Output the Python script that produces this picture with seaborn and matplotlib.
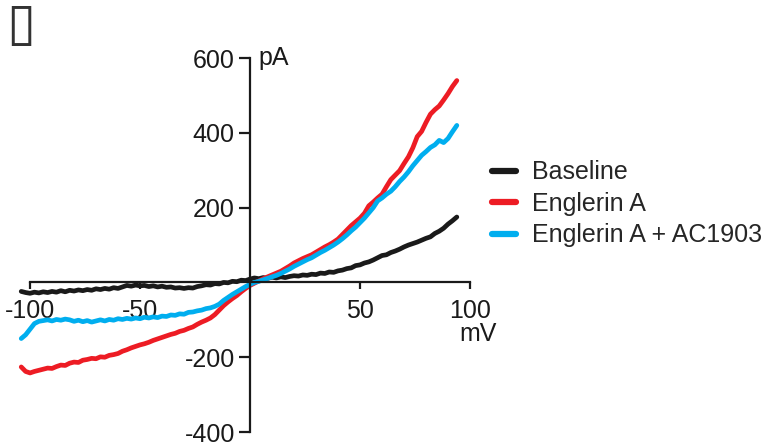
import numpy as np
import pandas as pd
import matplotlib.pyplot as plt
import seaborn as sns

# membrane potential sweep (mV), one sample every 2 mV
voltage = np.arange(-104, 96, 2)

# current (pA)
baseline = [-24, -27, -29, -26, -28, -25, -27, -24, -26, -22,
            -25, -21, -23, -20, -22, -19, -21, -17, -19, -16,
            -18, -14, -16, -12, -8, -10, -7, -9, -8, -11,
            -9, -12, -10, -13, -12, -15, -14, -16, -14, -15,
            -11, -9, -6, -7, -3, -4, 0, -1, 3, 2,
            6, 5, 9, 12, 10, 13, 11, 14, 12, 15,
            13, 16, 18, 17, 20, 19, 22, 21, 25, 24,
            28, 27, 31, 33, 37, 39, 45, 47, 52, 55,
            60, 66, 72, 74, 80, 84, 89, 95, 100, 104,
            108, 113, 118, 122, 131, 137, 145, 156, 165, 175]

englerin = [-226, -238, -242, -238, -235, -232, -229, -230, -225, -221,
            -222, -216, -213, -214, -208, -206, -203, -204, -199, -200,
            -195, -193, -190, -184, -180, -175, -171, -167, -164, -160,
            -155, -151, -147, -143, -139, -136, -131, -128, -123, -119,
            -112, -106, -101, -95, -86, -74, -62, -52, -43, -35,
            -25, -16, -8, -2, 4, 10, 15, 20, 25, 30,
            37, 44, 52, 58, 64, 69, 74, 81, 88, 95,
            101, 108, 116, 128, 140, 152, 162, 172, 185, 205,
            215, 226, 236, 256, 275, 287, 299, 318, 336, 360,
            390, 404, 428, 450, 462, 472, 488, 505, 524, 540]

englerin_ac = [-150, -140, -125, -110, -104, -102, -100, -103, -99, -101,
               -98, -100, -104, -101, -105, -102, -106, -103, -100, -103,
               -99, -101, -97, -99, -96, -98, -95, -97, -93, -95,
               -92, -94, -90, -91, -87, -88, -84, -85, -80, -79,
               -76, -74, -70, -68, -64, -58, -48, -40, -32, -25,
               -18, -11, -5, 0, 3, 7, 11, 15, 19, 24,
               30, 36, 43, 49, 55, 61, 66, 73, 80, 86,
               93, 100, 108, 117, 127, 138, 148, 160, 172, 186,
               200, 218, 226, 236, 244, 256, 270, 282, 296, 312,
               326, 340, 350, 361, 368, 380, 374, 385, 403, 420]

labels = ['Baseline', 'Englerin A', 'Englerin A + AC1903']
colors = ['#1a1a1a', '#ed1c24', '#00aeef']

df = pd.concat([
    pd.DataFrame({'mV': voltage, 'pA': baseline, 'trace': labels[0]}),
    pd.DataFrame({'mV': voltage, 'pA': englerin, 'trace': labels[1]}),
    pd.DataFrame({'mV': voltage, 'pA': englerin_ac, 'trace': labels[2]}),
])

sns.set_style('ticks')
plt.rcParams['font.family'] = ['Liberation Sans', 'DejaVu Sans']
plt.rcParams['font.size'] = 18

fig = plt.figure(figsize=(7.8, 4.48), dpi=100)
ax = fig.add_axes([0.0103, 0.019, 0.6205, 0.868])

sns.lineplot(data=df, x='mV', y='pA', hue='trace', hue_order=labels,
             palette=colors, linewidth=3.4, ax=ax, sort=False)

ax.set_xlim(-110, 110)
ax.set_ylim(-420, 620)

# axes cross at the origin
for side in ['top', 'right']:
    ax.spines[side].set_visible(False)
ax.spines['left'].set_position(('data', 0))
ax.spines['bottom'].set_position(('data', 0))
ax.spines['left'].set_bounds(-400, 600)
ax.spines['bottom'].set_bounds(-100, 100)
for side in ['left', 'bottom']:
    ax.spines[side].set_linewidth(1.6)
    ax.spines[side].set_color('#1a1a1a')

ax.set_xticks([-100, -50, 50, 100])
ax.set_xticklabels(['-100', '-50', '50', '100'])
ax.set_yticks([-400, -200, 200, 400, 600])
ax.set_yticklabels(['-400', '-200', '200', '400', '600'])
ax.tick_params(axis='x', length=5, width=1.6, pad=7, labelsize=18, colors='#1a1a1a')
ax.tick_params(axis='y', length=8, width=1.6, pad=3, labelsize=18, colors='#1a1a1a')
ax.set_xlabel('')
ax.set_ylabel('')

ax.text(4, 600, 'pA', ha='left', va='center', fontsize=18, color='#1a1a1a')
ax.text(103.6, -138, 'mV', ha='center', va='center', fontsize=18, color='#1a1a1a')

leg = ax.legend(loc='center left', bbox_to_anchor=(0.631, 0.545),
                bbox_transform=fig.transFigure, frameon=False, fontsize=18,
                borderpad=0, borderaxespad=0, handlelength=0.95,
                handletextpad=0.65, labelspacing=0.3)
for line in leg.get_lines():
    line.set_linewidth(4.5)
    line.set_solid_capstyle('round')

fig.text(0.008, 0.944, '\u25af', ha='left', va='center', fontsize=38,
         family=['DejaVu Sans'], color='#333333')

fig.savefig('out.png', dpi=100)
